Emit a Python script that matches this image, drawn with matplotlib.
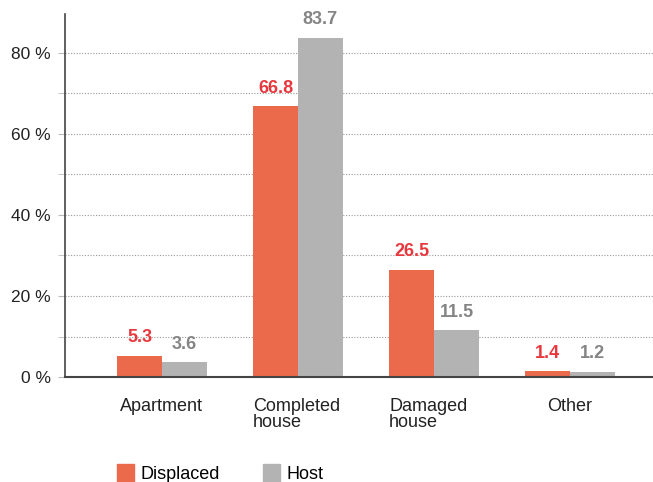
import numpy as np
import matplotlib
matplotlib.use('Agg')
import matplotlib.pyplot as plt
from matplotlib.patches import Patch

plt.rcParams['font.family'] = ['Liberation Sans', 'DejaVu Sans']

# Datos del gráfico
categories = ['Apartment', 'Completed\nhouse', 'Damaged\nhouse', 'Other']
displaced = [5.3, 66.8, 26.5, 1.4]
host = [3.6, 83.7, 11.5, 1.2]
yticks = [0, 20, 40, 60, 80]

c_disp = '#ec6a4c'
c_host = '#b3b3b3'
c_disp_txt = '#e8383d'
c_host_txt = '#858585'

fig = plt.figure(figsize=(6.53, 4.82), dpi=100)
ax = fig.add_axes([0.0995, 0.2178, 0.9005, 0.7532])

x = np.arange(len(categories))
w = 0.33
b1 = ax.bar(x - w / 2, displaced, w, color=c_disp)
b2 = ax.bar(x + w / 2, host, w, color=c_host)

# etiquetas de valor
for rect, v in zip(b1, displaced):
    ax.annotate(f'{v:.1f}', (rect.get_x() + rect.get_width() / 2, v), xytext=(0, 7),
                textcoords='offset points', ha='center', va='bottom',
                color=c_disp_txt, fontsize=13, fontweight='bold')
for rect, v in zip(b2, host):
    ax.annotate(f'{v:.1f}', (rect.get_x() + rect.get_width() / 2, v), xytext=(0, 7),
                textcoords='offset points', ha='center', va='bottom',
                color=c_host_txt, fontsize=13, fontweight='bold')

ax.set_xlim(-0.713, 3.61)
ax.set_ylim(0, 89.6)

# cuadrícula punteada cada 10 %
ax.set_yticks(yticks)
ax.set_yticklabels([f'{t} %' for t in yticks], fontsize=12.5, color='#222222')
ax.set_yticks(np.arange(10, 90, 20), minor=True)
ax.yaxis.grid(True, which='both', linestyle=(0, (1, 1.5)), color='#9a9a9a', linewidth=0.8)
ax.set_axisbelow(True)
ax.tick_params(axis='y', which='both', length=5, color='#bbbbbb', pad=5)

ax.set_xticks([])
for s in ['top', 'right']:
    ax.spines[s].set_visible(False)
ax.spines['left'].set_color('#444444')
ax.spines['left'].set_linewidth(1.2)
ax.spines['bottom'].set_color('#444444')
ax.spines['bottom'].set_linewidth(1.5)

# etiquetas de categoría: una línea centrada, dos líneas alineadas a la izquierda del grupo
for xi, lab in zip(x, categories):
    if '\n' in lab:
        ax.text(xi - w, -0.058, lab, transform=ax.get_xaxis_transform(),
                ha='left', va='top', fontsize=13, color='#222222', linespacing=0.88)
    else:
        ax.text(xi, -0.058, lab, transform=ax.get_xaxis_transform(),
                ha='center', va='top', fontsize=13, color='#222222')

# leyenda (queda un poco cortada abajo como en el original)
handles = [Patch(color=c_disp, label='Displaced'), Patch(color=c_host, label='Host')]
fig.legend(handles=handles, loc='lower left', bbox_to_anchor=(0.154, -0.036), ncol=2,
           frameon=False, fontsize=13, handlelength=0.95, handleheight=1.15,
           handletextpad=0.35, columnspacing=2.4)

fig.savefig('out.png', dpi=100)
